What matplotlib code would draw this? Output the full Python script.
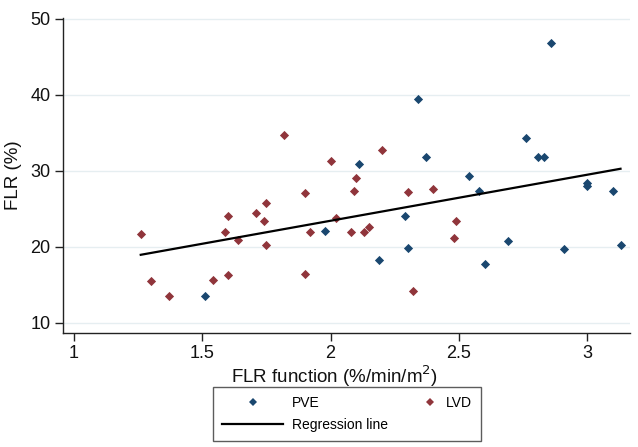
import numpy as np
import matplotlib
matplotlib.use("Agg")
import matplotlib.pyplot as plt
from matplotlib.lines import Line2D
from matplotlib.legend_handler import HandlerLine2D

plt.rcParams['font.family'] = ['Liberation Sans', 'DejaVu Sans']

# ---- data ----
pve_x = [1.51, 1.98, 2.11, 2.19, 2.29, 2.30, 2.34, 2.37, 2.54, 2.58, 2.60,
         2.69, 2.76, 2.81, 2.83, 2.86, 2.91, 3.00, 3.00, 3.10, 3.13]
pve_y = [13.6, 22.1, 30.9, 18.3, 24.1, 19.9, 39.5, 31.8, 29.3, 27.4, 17.8,
         20.8, 34.3, 31.8, 31.8, 46.8, 19.7, 28.4, 28.0, 27.4, 20.3]

lvd_x = [1.26, 1.30, 1.37, 1.54, 1.59, 1.60, 1.60, 1.64, 1.71, 1.74, 1.75,
         1.75, 1.82, 1.90, 1.90, 1.92, 2.00, 2.02, 2.08, 2.09, 2.10, 2.13,
         2.15, 2.20, 2.30, 2.32, 2.40, 2.48, 2.49]
lvd_y = [21.7, 15.5, 13.6, 15.7, 22.0, 24.1, 16.3, 20.9, 24.5, 23.4, 25.8,
         20.3, 34.7, 27.1, 16.4, 22.0, 31.3, 23.8, 22.0, 27.4, 29.1, 22.0,
         22.6, 32.8, 27.2, 14.2, 27.6, 21.2, 23.4]

# regression line: FLR = intercept + slope * function
reg_intercept = 11.34
reg_slope = 6.05

x_ticks = [1, 1.5, 2, 2.5, 3]
x_tick_labels = ["1", "1.5", "2", "2.5", "3"]
y_ticks = [10, 20, 30, 40, 50]

series_labels = ["PVE", "LVD", "Regression line"]
blue = "#1a476f"
red = "#90353b"

# ---- figure ----
fig = plt.figure(figsize=(6.38, 4.47), dpi=100)
ax = fig.add_axes([63/638, 1 - 333/447, (630 - 63)/638, (333 - 18)/447])

for yt in y_ticks:
    ax.axhline(yt, color="#e6eef1", lw=1.0, zorder=0)

ax.scatter(pve_x, pve_y, marker="D", s=22, color=blue, lw=0, zorder=3)
ax.scatter(lvd_x, lvd_y, marker="D", s=22, color=red, lw=0, zorder=3)

all_x = np.array(pve_x + lvd_x)
xl = np.array([all_x.min(), all_x.max()])
ax.plot(xl, reg_intercept + reg_slope * xl, color="black", lw=1.6, zorder=4)

ax.set_xlim(0.957, 3.167)
ax.set_ylim(8.68, 50.1)
ax.set_xticks(x_ticks)
ax.set_xticklabels(x_tick_labels)
ax.set_yticks(y_ticks)

for s in ["top", "right"]:
    ax.spines[s].set_visible(False)
for s in ["left", "bottom"]:
    ax.spines[s].set_color("#222222")
    ax.spines[s].set_linewidth(1.0)
ax.tick_params(axis="both", direction="out", length=6, width=1.0,
               color="#222222", labelsize=13, labelcolor="#111111", pad=3)

ax.set_xlabel("FLR function (%/min/m$^2$)", fontsize=13.5, color="#111111")
ax.xaxis.set_label_coords(0.479, -0.097)
ax.set_ylabel("FLR (%)", fontsize=13.5, labelpad=6, color="#111111")


class RightMarkerHandler(HandlerLine2D):
    def create_artists(self, legend, orig_handle, xdescent, ydescent,
                       width, height, fontsize, trans):
        ydata = height / 2 - ydescent
        m = Line2D([width - xdescent - 5], [ydata], marker=orig_handle.get_marker(),
                   markersize=orig_handle.get_markersize(), ls="none",
                   color=orig_handle.get_color(), markeredgewidth=0)
        m.set_transform(trans)
        return [m]


h_pve = Line2D([], [], marker="D", ls="none", color=blue, markersize=4.5, markeredgewidth=0)
h_lvd = Line2D([], [], marker="D", ls="none", color=red, markersize=4.5, markeredgewidth=0)
h_reg = Line2D([], [], color="black", lw=1.6)

leg = fig.legend([h_pve, h_reg, h_lvd], [series_labels[0], series_labels[2], series_labels[1]],
                 ncol=2, loc="upper center", bbox_to_anchor=(347/638, 1 - 387/447),
                 borderaxespad=0,
                 fontsize=10, frameon=True, fancybox=False, edgecolor="#333333",
                 handlelength=4.4, handletextpad=0.65, labelspacing=0.55,
                 columnspacing=-0.9, borderpad=0.65,
                 handler_map={h_lvd: RightMarkerHandler()})
leg.get_frame().set_linewidth(1.0)

fig.savefig("out.png", dpi=100, facecolor="white")
